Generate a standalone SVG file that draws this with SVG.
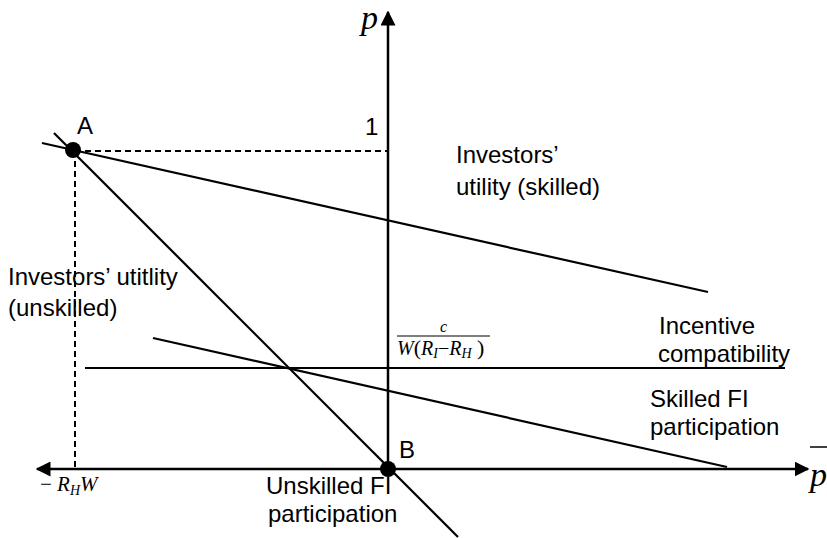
<svg xmlns="http://www.w3.org/2000/svg" width="827" height="538" viewBox="0 0 827 538">
<defs>
<marker id="arr" viewBox="0 0 10 10" refX="9" refY="5" markerWidth="6" markerHeight="6" orient="auto" markerUnits="strokeWidth">
<path d="M0,0 L10,5 L0,10 z" fill="#000"/>
</marker>
<style>
.ln{stroke:#000;stroke-width:2.2;fill:none}
.ax{stroke:#000;stroke-width:2.5;fill:none}
.da{stroke:#000;stroke-width:2;fill:none;stroke-dasharray:6,4}
.lb{font-family:"Liberation Sans",Arial,sans-serif;font-size:24px;fill:#000}
.mt{font-family:"Liberation Serif","Times New Roman",serif;font-style:italic;fill:#000}
</style>
</defs>
<rect width="827" height="538" fill="#fff"/>
<g id="connectors">
<line class="ax" x1="388" y1="469" x2="388" y2="12" marker-end="url(#arr)"/>
<line class="ax" x1="388" y1="469" x2="37" y2="469" marker-end="url(#arr)"/>
<line class="ax" x1="388" y1="469" x2="808" y2="469" marker-end="url(#arr)"/>
<line class="da" x1="75" y1="151" x2="388" y2="151"/>
<line class="da" x1="75" y1="151" x2="75" y2="469"/>
<line class="ln" x1="42" y1="143" x2="708" y2="292"/>
<line class="ln" x1="54" y1="133" x2="458" y2="537"/>
<line class="ln" x1="85" y1="368" x2="785" y2="368"/>
<line class="ln" x1="153" y1="338" x2="727" y2="467"/>
</g>
<g id="A"><circle cx="73" cy="150" r="8" fill="#000"/><text class="lb" x="77" y="134">A</text></g>
<g id="B"><circle cx="388" cy="469" r="8" fill="#000"/><text class="lb" x="399" y="458">B</text></g>
<g id="labels">
<text class="mt" x="361" y="29" font-size="34">p</text>
<text class="mt" x="810" y="486" font-size="34">p</text>
<line x1="810" y1="447" x2="827" y2="447" stroke="#000" stroke-width="1.5"/>
<text class="lb" x="365" y="135">1</text>
<text class="lb" x="456" y="163">Investors’</text>
<text class="lb" x="456" y="195">utility (skilled)</text>
<text class="lb" x="8" y="285">Investors’ utitlity</text>
<text class="lb" x="8" y="316">(unskilled)</text>
<text class="lb" x="659" y="334">Incentive</text>
<text class="lb" x="658" y="362">compatibility</text>
<text class="lb" x="650" y="407">Skilled FI</text>
<text class="lb" x="650" y="435">participation</text>
<text class="lb" x="266" y="494">Unskilled FI</text>
<text class="lb" x="268" y="522">participation</text>
<text class="mt" x="440" y="332" font-size="16">c</text>
<line x1="397" y1="336" x2="490" y2="336" stroke="#000" stroke-width="1.2"/>
<text class="mt" x="397" y="355" font-size="20">W<tspan font-style="normal" font-size="22">(</tspan>R<tspan font-size="14" dy="3">I</tspan><tspan dy="-3" font-style="normal">−</tspan>R<tspan font-size="14" dy="3">H</tspan><tspan dy="-3" font-style="normal" font-size="22"> )</tspan></text>
<text class="mt" x="40" y="491" font-size="21"><tspan font-style="normal">−</tspan> R<tspan font-size="14" dy="4">H</tspan><tspan dy="-4">W</tspan></text>
</g>
</svg>
